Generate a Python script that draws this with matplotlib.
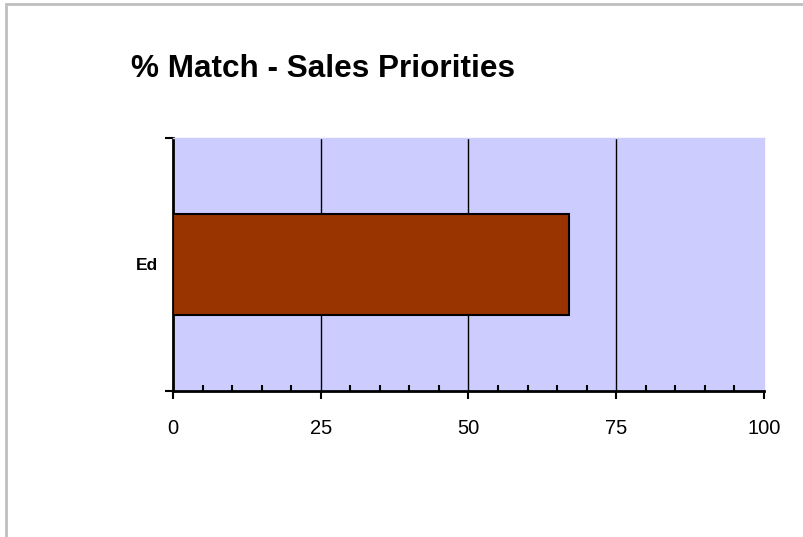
import matplotlib
matplotlib.use("Agg")
import matplotlib.pyplot as plt
from matplotlib.patches import Rectangle
from matplotlib.ticker import MultipleLocator

categories = ["Ed"]
values = [67]
xticks = [0, 25, 50, 75, 100]
title = "% Match - Sales Priorities"

plt.rcParams['font.family'] = ['Liberation Sans', 'DejaVu Sans']

W, H = 804, 537
fig = plt.figure(figsize=(W/100, H/100), dpi=100)
fig.patch.set_facecolor('white')

# outer chart border (gray), extends off right/bottom
fig.add_artist(Rectangle((6/W, -0.1), 1.2, (H - 4)/H + 0.1, transform=fig.transFigure,
                         fill=False, edgecolor='#bfbfbf', linewidth=2))

left, right, top, bottom = 173, 764, 138, 391
ax = fig.add_axes([left/W, 1 - bottom/H, (right-left)/W, (bottom-top)/H])
ax.set_facecolor('#ccccff')

ax.barh(range(len(categories)), values, height=0.4, color='#993300',
        edgecolor='black', linewidth=1.5, zorder=3)

ax.set_xlim(0, 100)
ax.set_ylim(-0.5, len(categories) - 0.5)
ax.set_xticks(xticks)
ax.set_xticklabels([str(t) for t in xticks], fontsize=14.5)
ax.xaxis.set_minor_locator(MultipleLocator(5))
ax.tick_params(axis='x', which='major', direction='out', length=6, width=1.5, pad=14)
ax.tick_params(axis='x', which='minor', direction='in', length=4, width=1.5)
for x in xticks[1:-1]:
    ax.axvline(x, color='black', linewidth=1, zorder=2)

ax.set_yticks([-0.5 + i for i in range(len(categories) + 1)])
ax.set_yticklabels([])
ax.set_yticks(range(len(categories)), minor=True)
ax.set_yticklabels(categories, minor=True, fontsize=12.5, fontweight='bold')
ax.tick_params(axis='y', which='major', direction='out', length=6, width=1.5)
ax.tick_params(axis='y', which='minor', length=0, pad=11)

for side in ['left', 'bottom']:
    ax.spines[side].set_linewidth(2)
ax.spines['right'].set_linewidth(1)
ax.spines['top'].set_linewidth(1)
ax.spines['top'].set_color('#ccccff')
ax.spines['right'].set_color('#ccccff')

fig.text(131/W, 1 - 77/H, title, fontsize=22.7, fontweight='bold', ha='left', va='baseline')

fig.savefig('out.png', dpi=100)
